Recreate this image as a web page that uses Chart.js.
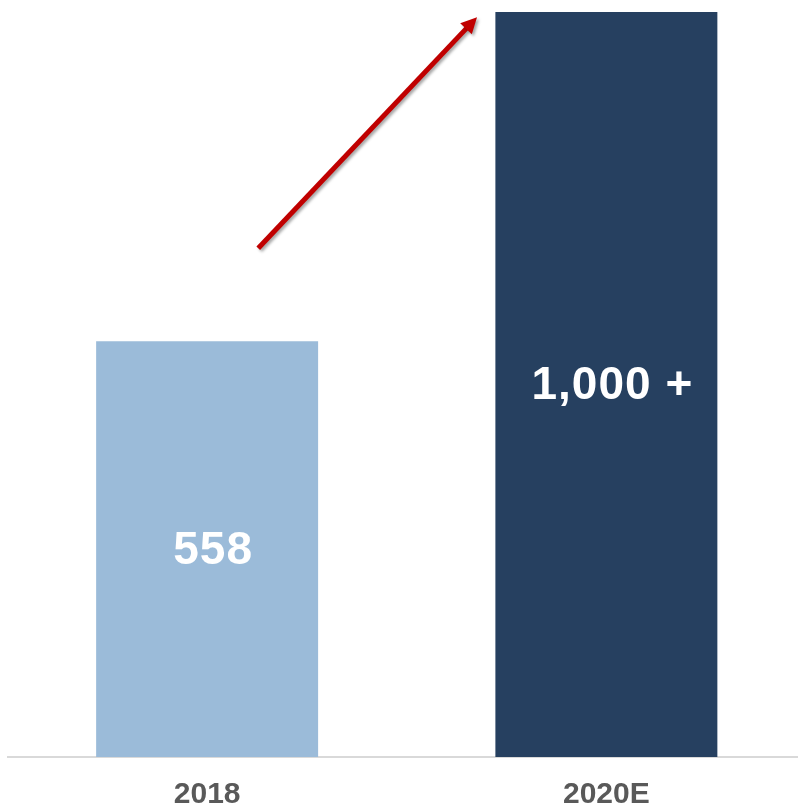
<!DOCTYPE html>
<html>
<head>
<meta charset="utf-8">
<script src="https://cdn.jsdelivr.net/npm/chart.js@4/dist/chart.umd.min.js"></script>
<style>
  html, body { margin: 0; padding: 0; background: #ffffff; overflow: hidden; }
  #wrap { width: 806px; height: 808px; position: relative; }
</style>
</head>
<body>
<div id="wrap"><canvas id="chart"></canvas></div>
<script>
// Categories and values
const years = ['2018', '2020E'];
const counts = [558, 1000];
const countLabels = ['558', '1,000 +'];
const barColors = ['#9BBBD9', '#264060'];

// Growth arrow endpoints in data space (category index, value)
const arrowFrom = [0.128, 683];
const arrowTo = [0.676, 993];

// Value labels centred inside each bar
const barValueLabels = {
  id: 'barValueLabels',
  afterDatasetsDraw(chart) {
    const ctx = chart.ctx;
    const meta = chart.getDatasetMeta(0);
    ctx.save();
    ctx.fillStyle = '#ffffff';
    ctx.font = 'bold 46px "Liberation Sans", Arial, sans-serif';
    ctx.letterSpacing = '1px';
    ctx.textAlign = 'center';
    ctx.textBaseline = 'middle';
    meta.data.forEach((bar, i) => {
      const y = (bar.y + bar.base) / 2;
      ctx.fillText(countLabels[i], bar.x + 6, y + 2);
    });
    ctx.restore();
  }
};

// Red growth arrow with a soft drop shadow
const growthArrow = {
  id: 'growthArrow',
  afterDatasetsDraw(chart) {
    const xs = chart.scales.x, ys = chart.scales.y;
    const x1 = xs.getPixelForValue(arrowFrom[0]), y1 = ys.getPixelForValue(arrowFrom[1]);
    const x2 = xs.getPixelForValue(arrowTo[0]), y2 = ys.getPixelForValue(arrowTo[1]);
    const ang = Math.atan2(y2 - y1, x2 - x1);
    const headLen = 16, headHalf = 8;
    const bx = x2 - headLen * Math.cos(ang), by = y2 - headLen * Math.sin(ang);
    const ctx = chart.ctx;
    ctx.save();
    ctx.shadowColor = 'rgba(0,0,0,0.35)';
    ctx.shadowBlur = 3;
    ctx.shadowOffsetX = 2;
    ctx.shadowOffsetY = 2;
    ctx.strokeStyle = '#C00000';
    ctx.fillStyle = '#C00000';
    ctx.lineWidth = 5;
    ctx.lineCap = 'butt';
    ctx.beginPath();
    ctx.moveTo(x1, y1);
    ctx.lineTo(bx + 2 * Math.cos(ang), by + 2 * Math.sin(ang));
    ctx.stroke();
    ctx.beginPath();
    ctx.moveTo(x2, y2);
    ctx.lineTo(bx + headHalf * Math.sin(ang), by - headHalf * Math.cos(ang));
    ctx.lineTo(bx - headHalf * Math.sin(ang), by + headHalf * Math.cos(ang));
    ctx.closePath();
    ctx.fill();
    ctx.restore();
  }
};

new Chart(document.getElementById('chart'), {
  type: 'bar',
  data: {
    labels: years,
    datasets: [{
      data: counts,
      backgroundColor: barColors,
      borderWidth: 0,
      barPercentage: 0.556,
      categoryPercentage: 1
    }]
  },
  options: {
    responsive: true,
    maintainAspectRatio: false,
    animation: false,
    devicePixelRatio: 1,
    layout: { padding: { top: 12, left: 7.5, right: 0, bottom: 0 } },
    plugins: {
      legend: { display: false },
      tooltip: { enabled: false }
    },
    scales: {
      x: {
        offset: true,
        grid: { display: false },
        border: { display: true, color: '#D9D9D9', width: 2 },
        ticks: {
          color: '#595959',
          padding: 12,
          font: { family: '"Liberation Sans", Arial, sans-serif', size: 30, weight: 'bold' }
        },
        afterFit(scale) { scale.height = 51; }
      },
      y: {
        display: false,
        min: 0,
        max: 1000
      }
    }
  },
  plugins: [barValueLabels, growthArrow]
});
</script>
</body>
</html>
